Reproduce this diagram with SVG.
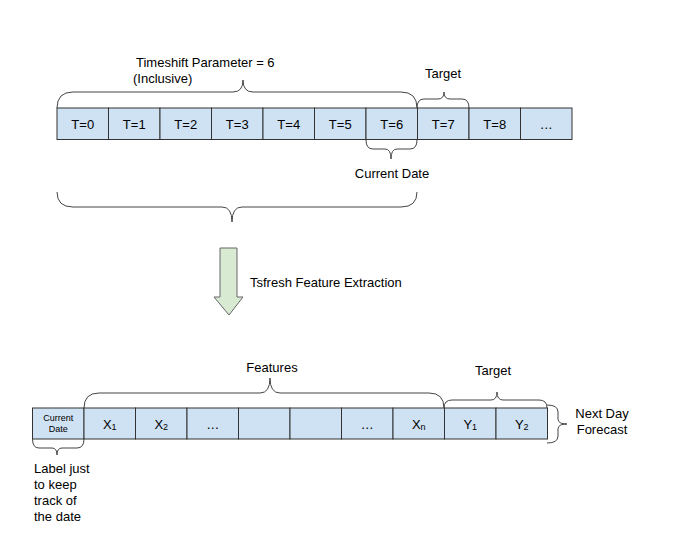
<svg xmlns="http://www.w3.org/2000/svg" width="680" height="549" viewBox="0 0 680 549">
<style>
.cell{fill:#cfe2f3;stroke:#333;stroke-width:1}
.t{font-family:"Liberation Sans",Arial,sans-serif;font-size:13px;fill:#000}
.c{text-anchor:middle}
.br{fill:none;stroke:#444;stroke-width:1}
.sub{font-size:9px}
</style>
<rect width="680" height="549" fill="#fff"/>
<g id="top-row">
<rect class="cell" x="57" y="108" width="51.5" height="31.5"/>
<rect class="cell" x="108.5" y="108" width="51.5" height="31.5"/>
<rect class="cell" x="160" y="108" width="51.5" height="31.5"/>
<rect class="cell" x="211.5" y="108" width="51.5" height="31.5"/>
<rect class="cell" x="263" y="108" width="51.5" height="31.5"/>
<rect class="cell" x="314.5" y="108" width="51.5" height="31.5"/>
<rect class="cell" x="366" y="108" width="51.5" height="31.5"/>
<rect class="cell" x="417.5" y="108" width="51.5" height="31.5"/>
<rect class="cell" x="469" y="108" width="51.5" height="31.5"/>
<rect class="cell" x="520.5" y="108" width="51.5" height="31.5"/>
<text class="t c" x="82.75" y="128.5">T=0</text>
<text class="t c" x="134.25" y="128.5">T=1</text>
<text class="t c" x="185.75" y="128.5">T=2</text>
<text class="t c" x="237.25" y="128.5">T=3</text>
<text class="t c" x="288.75" y="128.5">T=4</text>
<text class="t c" x="340.25" y="128.5">T=5</text>
<text class="t c" x="391.75" y="128.5">T=6</text>
<text class="t c" x="443.25" y="128.5">T=7</text>
<text class="t c" x="494.75" y="128.5">T=8</text>
<text class="t c" x="546.25" y="128.5">…</text>
</g>
<g id="bottom-row">
<rect class="cell" x="32.5" y="408" width="51.5" height="31"/>
<rect class="cell" x="84" y="408" width="51.5" height="31"/>
<rect class="cell" x="135.5" y="408" width="51.5" height="31"/>
<rect class="cell" x="187" y="408" width="51.5" height="31"/>
<rect class="cell" x="238.5" y="408" width="51.5" height="31"/>
<rect class="cell" x="290" y="408" width="51.5" height="31"/>
<rect class="cell" x="341.5" y="408" width="51.5" height="31"/>
<rect class="cell" x="393" y="408" width="51.5" height="31"/>
<rect class="cell" x="444.5" y="408" width="51.5" height="31"/>
<rect class="cell" x="496" y="408" width="51.5" height="31"/>
<text class="t c" x="58.25" y="421" style="font-size:9px">Current</text>
<text class="t c" x="58.25" y="432" style="font-size:9px">Date</text>
<text class="t c" x="109.75" y="429">X<tspan class="sub" dy="1">1</tspan></text>
<text class="t c" x="161.25" y="429">X<tspan class="sub" dy="1">2</tspan></text>
<text class="t c" x="212.75" y="429">…</text>
<text class="t c" x="367.25" y="429">…</text>
<text class="t c" x="418.75" y="429">X<tspan class="sub" dy="1">n</tspan></text>
<text class="t c" x="470.25" y="429">Y<tspan class="sub" dy="1">1</tspan></text>
<text class="t c" x="521.75" y="429">Y<tspan class="sub" dy="1">2</tspan></text>
</g>
<g id="connectors">
<path class="br" d="M57 108 Q57 92 73 92 L233 92 Q243 92 243 80 Q243 92 253 92 L401 92 Q417 92 417 108"/>
<path class="br" d="M417 108 Q417 99 424 99 L438 99 Q444 99 444 92 Q444 99 450 99 L462 99 Q469 99 469 108"/>
<path class="br" d="M366 140 Q366 149 373 149 L385 149 Q391 149 391 159 Q391 149 397 149 L410 149 Q417 149 417 140"/>
<path class="br" d="M57 192 Q57 207 73 207 L222 207 Q232 207 232 222 Q232 207 242 207 L401 207 Q417 207 417 192"/>
<path class="br" d="M84 408 Q84 393 99 393 L260 393 Q270 393 270 378 Q270 393 280 393 L429 393 Q444 393 444 408"/>
<path class="br" d="M444 408 Q444 400 452 400 L491 400 Q497 400 497 392 Q497 400 503 400 L539 400 Q547 400 547 408"/>
<path class="br" d="M32.5 439 Q32.5 448 39 448 L52 448 Q57 448 57 455 Q57 448 62 448 L77 448 Q84 448 84 439"/>
<path class="br" d="M547 405 Q558 405 558 412 L558 419 Q558 424 567 424 Q558 424 558 429 L558 436 Q558 443 547 443"/>
</g>
<g id="arrow">
<path d="M220 248 L237 248 L237 297 L243 297 L229 315 L214 297 L220 297 Z" fill="#d9ead3" stroke="#666" stroke-width="1"/>
</g>
<g id="labels">
<text class="t" x="136" y="67">Timeshift Parameter = 6</text>
<text class="t" x="133" y="83">(Inclusive)</text>
<text class="t c" x="443" y="78">Target</text>
<text class="t c" x="392" y="178">Current Date</text>
<text class="t" x="250" y="287">Tsfresh Feature Extraction</text>
<text class="t c" x="272" y="372">Features</text>
<text class="t c" x="493" y="375">Target</text>
<text class="t c" x="602" y="418">Next Day</text>
<text class="t c" x="602" y="434">Forecast</text>
<text class="t" x="34" y="473">Label just</text>
<text class="t" x="34" y="489">to keep</text>
<text class="t" x="34" y="505">track of</text>
<text class="t" x="34" y="521">the date</text>
</g>
</svg>
